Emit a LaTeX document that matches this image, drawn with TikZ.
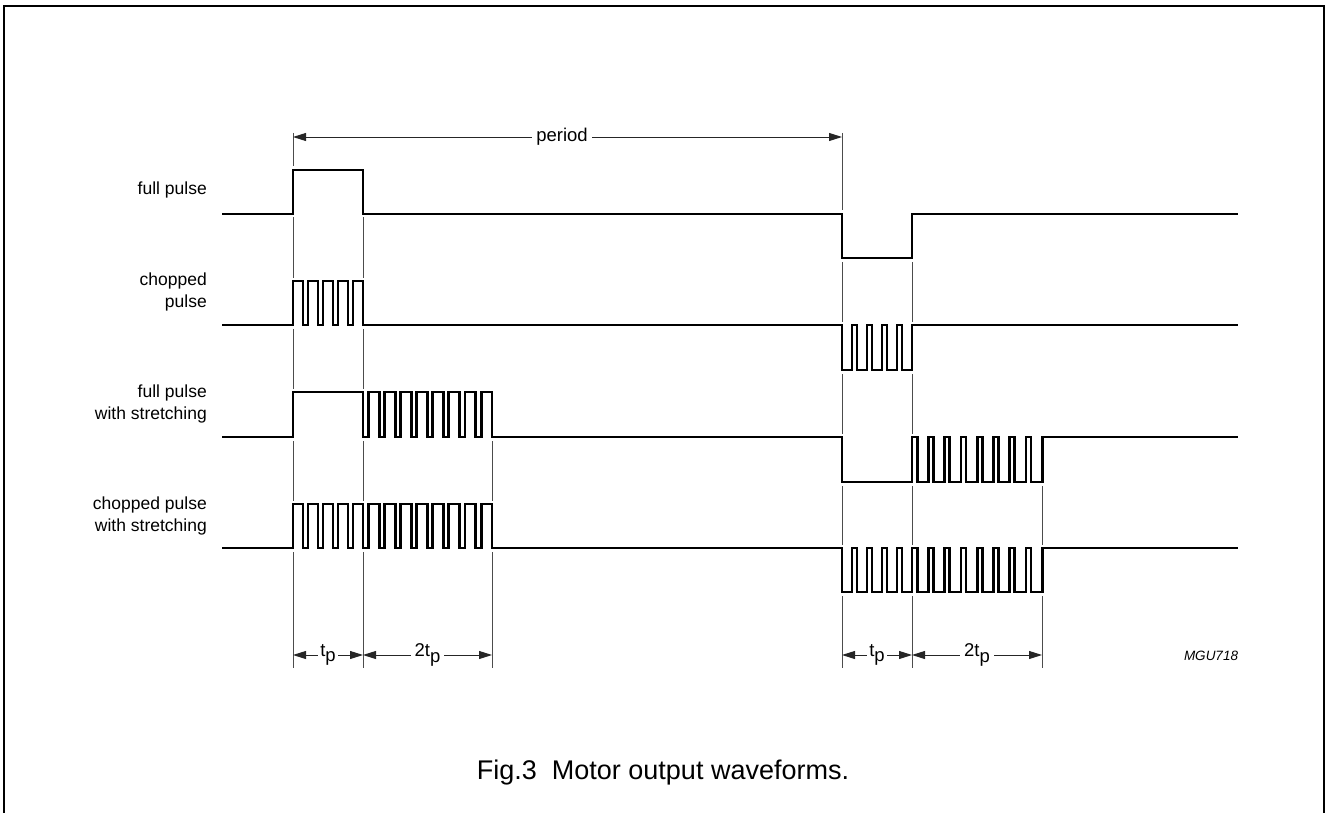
\documentclass[tikz,border=0pt]{standalone}
\usepackage{fontspec}
\setmainfont{Liberation Sans}
\usetikzlibrary{arrows.meta}
\begin{document}
\begin{tikzpicture}[x=1pt,y=-1pt,
  wave/.style={line width=2.8pt,line join=miter,line cap=butt,preaction={draw=white,line width=7pt}},
  guide/.style={line width=0.9pt,draw=black!70},
  dim/.style={line width=0.9pt,draw=black!85,{Triangle[length=13pt,width=8pt]}-{Triangle[length=13pt,width=8pt]}},
  lbl/.style={font=\fontsize{17.5}{21.5}\selectfont,anchor=east,align=right,inner sep=0pt},
  dimlbl/.style={font=\fontsize{18.5}{20}\selectfont,fill=white,inner sep=4pt}]
\useasboundingbox (0,0) rectangle (1328,813);
% frame
\draw[line width=2pt] (4,813) -- (4,6) -- (1324,6) -- (1324,813);
% guide coordinates
\coordinate (g1t) at (293,133); \coordinate (g1b) at (293,668);
\coordinate (g2t) at (363,214); \coordinate (g2b) at (363,668);
\coordinate (g3t) at (492,437); \coordinate (g3b) at (492,668);
\coordinate (g4t) at (842,133); \coordinate (g4b) at (842,668);
\coordinate (g5t) at (912,258); \coordinate (g5b) at (912,668);
\coordinate (g6t) at (1042,482); \coordinate (g6b) at (1042,668);
\draw[guide] (g1t) -- (g1b);
\draw[guide] (g2t) -- (g2b);
\draw[guide] (g3t) -- (g3b);
\draw[guide] (g4t) -- (g4b);
\draw[guide] (g5t) -- (g5b);
\draw[guide] (g6t) -- (g6b);
% row 1: full pulse
\draw[wave] (222,214) -- (293,214) -- (293,170) -- (363,170) -- (363,214) -- (842,214) -- (842,258) -- (912,258) -- (912,214) -- (1238,214);
% row 2: chopped pulse
\draw[wave] (222,325) -- (293,325)
  \foreach \i in {0,...,4}{ -- ({293+\i*15},325) -- ({293+\i*15},281) -- ({303+\i*15},281) -- ({303+\i*15},325) }
  -- (842,325)
  \foreach \i in {0,...,4}{ -- ({842+\i*15},325) -- ({842+\i*15},370) -- ({852+\i*15},370) -- ({852+\i*15},325) }
  -- (1238,325);
% row 3: full pulse with stretching
\draw[wave] (222,437) -- (293,437) -- (293,392) -- (363,392) -- (363,437)
  \foreach \i in {0,...,7}{ -- ({368.225+\i*16.125},437) -- ({368.225+\i*16.125},392) -- ({379.125+\i*16.125},392) -- ({379.125+\i*16.125},437) }
  -- (842,437) -- (842,482) -- (912,482) -- (912,437)
  \foreach \i in {0,...,7}{ -- ({917.25+\i*16.25},437) -- ({917.25+\i*16.25},482) -- ({928.5+\i*16.25},482) -- ({928.5+\i*16.25},437) }
  -- (1238,437);
% row 4: chopped pulse with stretching
\draw[wave] (222,548) -- (293,548)
  \foreach \i in {0,...,4}{ -- ({293+\i*15},548) -- ({293+\i*15},504) -- ({303+\i*15},504) -- ({303+\i*15},548) }
  \foreach \i in {0,...,7}{ -- ({368.225+\i*16.125},548) -- ({368.225+\i*16.125},504) -- ({379.125+\i*16.125},504) -- ({379.125+\i*16.125},548) }
  -- (842,548)
  \foreach \i in {0,...,4}{ -- ({842+\i*15},548) -- ({842+\i*15},592) -- ({852+\i*15},592) -- ({852+\i*15},548) }
  \foreach \i in {0,...,7}{ -- ({917.25+\i*16.25},548) -- ({917.25+\i*16.25},592) -- ({928.5+\i*16.25},592) -- ({928.5+\i*16.25},548) }
  -- (1238,548);
% row labels
\node[lbl] (l1) at (207,190) {full pulse};
\node[lbl] (l2) at (207,292) {chopped\\pulse};
\node[lbl] (l3) at (207,404) {full pulse\\with stretching};
\node[lbl] (l4) at (207,516) {chopped pulse\\with stretching};
% period arrow
\coordinate (p1) at (293,137); \coordinate (p2) at (842,137);
\draw[dim] (p1) -- (p2) node[pos=0.49,dimlbl] (per) {period};
% tp arrows
\coordinate (d1) at (293,655); \coordinate (d2) at (363,655); \coordinate (d3) at (492,655);
\coordinate (d4) at (842,655); \coordinate (d5) at (912,655); \coordinate (d6) at (1042,655);
\draw[dim] (d1) -- (d2) node[midway,dimlbl,inner xsep=2pt] (tp1) {t\raisebox{-0.6ex}{p}};
\draw[dim] (d2) -- (d3) node[midway,dimlbl] (tp2) {2t\raisebox{-0.6ex}{p}};
\draw[dim] (d4) -- (d5) node[midway,dimlbl,inner xsep=2pt] (tp3) {t\raisebox{-0.6ex}{p}};
\draw[dim] (d5) -- (d6) node[midway,dimlbl] (tp4) {2t\raisebox{-0.6ex}{p}};
% code and caption
\node[font=\itshape\fontsize{13.5}{15}\selectfont,inner sep=0pt] (code) at (1211,656) {MGU718};
\node[font=\fontsize{27}{30}\selectfont,inner sep=0pt] (cap) at (663,773) {Fig.3\ \ Motor output waveforms.};
\end{tikzpicture}
\end{document}
